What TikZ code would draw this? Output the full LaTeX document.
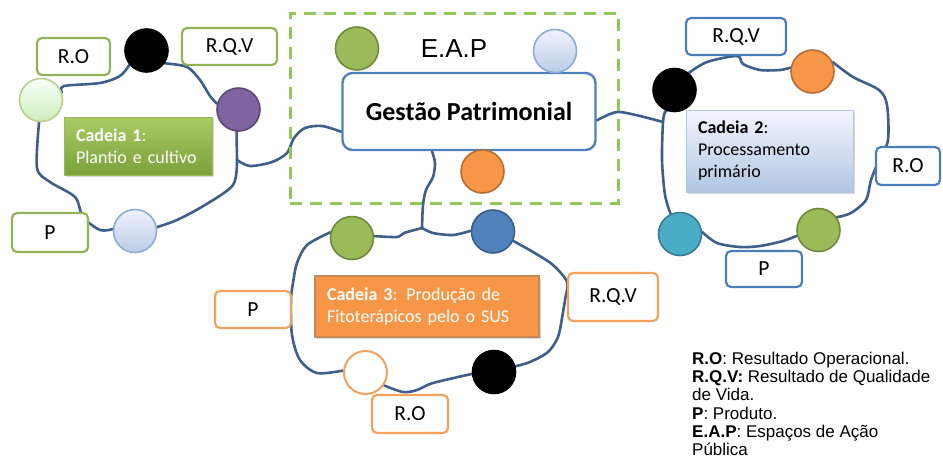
\documentclass[tikz,border=0pt]{standalone}
\usepackage{fontspec}
\setmainfont{Carlito}
\newfontfamily\arialfont{Liberation Sans}
\usetikzlibrary{positioning, shadows, backgrounds}

\definecolor{linkblue}{HTML}{3E5F8A}
\definecolor{tagverde}{HTML}{93B35B}
\definecolor{tagazul}{HTML}{4A7EBB}
\definecolor{taglaranja}{HTML}{F2A15E}
\definecolor{tracejado}{HTML}{92C85A}
\definecolor{olive}{HTML}{9BBB59}
\definecolor{oliveB}{HTML}{71893F}
\definecolor{laranja}{HTML}{F79646}
\definecolor{laranjaB}{HTML}{B66D31}
\definecolor{roxo}{HTML}{8064A2}
\definecolor{roxoB}{HTML}{5C4776}
\definecolor{azul}{HTML}{4F81BD}
\definecolor{azulB}{HTML}{385D8A}
\definecolor{turquesa}{HTML}{4BACC6}
\definecolor{turquesaB}{HTML}{357D91}
\definecolor{cad1top}{HTML}{A9CB63}
\definecolor{cad1bot}{HTML}{7BA13A}

\tikzset{
  link/.style={draw=linkblue, line width=2.6pt, line join=round, line cap=round},
  dot/.style={circle, minimum size=43pt, inner sep=0pt, line width=1.6pt},
  preto/.style={dot, fill=black, draw=black},
  claro/.style={dot, top color=green!3!white, bottom color=green!25!olive!35, draw=olive!70},
  celeste/.style={dot, top color=blue!5!white, bottom color=azul!40, draw=azul!65},
  verdeC/.style={dot, fill=olive, draw=oliveB},
  laranjaC/.style={dot, fill=laranja, draw=laranjaB},
  roxoC/.style={dot, fill=roxo, draw=roxoB},
  azulC/.style={dot, fill=azul, draw=azulB},
  turquesaC/.style={dot, fill=turquesa, draw=turquesaB},
  vazio/.style={dot, fill=white, draw=taglaranja, line width=2pt},
  tag/.style={draw=#1, fill=white, rounded corners=5pt, line width=2.2pt, inner sep=0pt,
    font=\fontsize{21.5}{25}\selectfont},
  cadeia/.style={rectangle, inner xsep=12pt, align=left, font=\fontsize{18}{22}\selectfont,
    drop shadow={opacity=0.3, shadow xshift=2pt, shadow yshift=-2pt}},
}

\begin{document}
\begin{tikzpicture}[x=1pt, y=-1pt]
\useasboundingbox (0,0) rectangle (943,464);

% E.A.P
\node[draw=tracejado, line width=3pt, dash pattern=on 12pt off 8pt, minimum width=328pt, minimum height=190pt] (eap) at (454,108) {};
\node[font=\arialfont\fontsize{26}{30}\selectfont] (eaptxt) at (454,49) {E.A.P};
\node[draw=azul, fill=white, line width=2.4pt, rounded corners=10pt, minimum width=253pt, minimum height=77pt,
  font=\bfseries\fontsize{26}{30}\selectfont] (gestao) at (469,111.5) {Gestão Patrimonial};
\node[verdeC] (eapverde) at (357,48.5) {};
\node[celeste] (eapazul) at (555,51) {};
\node[laranjaC] (eaplaranja) at (482.5,171.5) {};

% Cadeia 1
\node[cadeia, text width=124pt, minimum height=58pt, top color=cad1top, bottom color=cad1bot, draw=olive, text=white] (cad1) at (138,146) {\textbf{Cadeia 1}:\\Plantio e cultivo};
\node[preto] (c1preto) at (146.5,50.5) {};
\node[claro] (c1claro) at (41,100) {};
\node[roxoC] (c1roxo) at (238.5,109.5) {};
\node[celeste] (c1azul) at (135,231) {};
\node[tag=tagverde, minimum width=73pt, minimum height=37pt] (c1ro) at (73.5,56.5) {R.O};
\node[tag=tagverde, minimum width=95pt, minimum height=37pt] (c1rqv) at (229.5,46.5) {R.Q.V};
\node[tag=tagverde, minimum width=76pt, minimum height=39pt] (c1p) at (50,232.5) {P};

% Cadeia 2
\node[cadeia, text width=143pt, minimum height=82pt, top color=blue!4!white, bottom color=azul!45!white, draw=azul!45] (cad2) at (769.5,151) {\textbf{Cadeia 2}:\\Processamento\\primário};
\node[preto] (c2preto) at (674.5,90) {};
\node[laranjaC] (c2laranja) at (812.5,71.5) {};
\node[verdeC] (c2verde) at (818.5,230) {};
\node[turquesaC] (c2turquesa) at (680,234) {};
\node[tag=tagazul, minimum width=100pt, minimum height=37pt] (c2rqv) at (736,36.5) {R.Q.V};
\node[tag=tagazul, minimum width=64pt, minimum height=38pt] (c2ro) at (908,166) {R.O};
\node[tag=tagazul, minimum width=76pt, minimum height=36pt] (c2p) at (764,269) {P};

% Cadeia 3
\node[cadeia, text width=200pt, minimum height=61pt, fill=laranja, draw=laranjaB!80, line width=1.5pt, text=white] (cad3) at (427,306.5) {\textbf{Cadeia 3}: Produção de\\Fitoterápicos pelo o SUS};
\node[verdeC] (c3verde) at (352,238) {};
\node[azulC] (c3azul) at (493,231.5) {};
\node[vazio] (c3vazio) at (365.5,372.5) {};
\node[preto] (c3preto) at (494,372) {};
\node[tag=taglaranja, minimum width=76pt, minimum height=37pt] (c3p) at (253,309.5) {P};
\node[tag=taglaranja, minimum width=90pt, minimum height=48pt] (c3rqv) at (613,297) {R.Q.V};
\node[tag=taglaranja, minimum width=76pt, minimum height=38pt] (c3ro) at (410,414) {R.O};

\coordinate (j1) at (237,160);
\coordinate (j2) at (663,122);
\coordinate (j3) at (422,228);

\begin{scope}[on background layer]
  % cadeia 1
  \draw[link] plot[smooth] coordinates {(c1claro.20) (64,86) (100,83) (120,76) (c1preto.220)};
  \draw[link] plot[smooth] coordinates {(c1preto.-35) (187,67) (200,80) (210,96) (c1roxo.165)};
  \draw[link] (c1roxo.-95) -- (j1);
  \draw[link] plot[smooth] coordinates {(j1) (233,185) (205,205) (177,220) (c1azul.10)};
  \draw[link] plot[smooth] coordinates {(c1azul.175) (100,230) (83,217) (75,197) (50,182) (37,168) (c1claro.-95)};
  \draw[link] plot[smooth] coordinates {(j1) (250,166) (272,162) (287,153) (294,138) (305,128) (322,126) (gestao.-171)};
  % cadeia 2
  \draw[link] plot[smooth] coordinates {(gestao.-4) (610,114) (620,112) (640,116) (j2)};
  \draw[link] plot[smooth] coordinates {(c2preto.50) (707,62) (737,56) (743,64) (760,70) (780,70) (c2laranja.170)};
  \draw[link] plot[smooth] coordinates {(c2laranja.25) (853,77) (879,90) (887,105) (888,140) (879,160) (871,180) (866,200) (851,213) (c2verde.35)};
  \draw[link] plot[smooth] coordinates {(c2verde.195) (783,241) (760,246) (740,247) (717,243) (c2turquesa.5)};
  \draw[link] plot[smooth] coordinates {(c2turquesa.115) (665,195) (662,160) (j2) (665,112) (c2preto.-110)};
  % cadeia 3
  \draw[link] plot[smooth] coordinates {([xshift=-37pt]gestao.south) (435,163) (433,177) (426,190) (423,205) (j3)};
  \draw[link] plot[smooth] coordinates {(c3verde.5) (397,237) (404,233) (j3)};
  \draw[link] plot[smooth] coordinates {(j3) (433,233) (453,235) (c3azul.178)};
  \draw[link] plot[smooth] coordinates {(c3azul.-25) (533,252) (553,265) (567,282) (565,300) (562,318) (558,337) (548,352) (530,362) (c3preto.15)};
  \draw[link] plot[smooth] coordinates {(c3preto.185) (433,383) (417,390) (403,392) (c3vazio.-35)};
  \draw[link] plot[smooth] coordinates {(c3vazio.175) (317,373) (300,360) (292,335) (291,300) (293,283) (297,263) (307,245) (c3verde.165)};
\end{scope}

% legenda
\node[anchor=north west, inner sep=0pt, align=left, font=\arialfont\fontsize{17}{18.2}\selectfont] (legenda) at (692,352)
  {\textbf{R.O}: Resultado Operacional.\\\textbf{R.Q.V:} Resultado de Qualidade\\de Vida.\\\textbf{P}: Produto.\\\textbf{E.A.P}: Espaços de Ação\\Pública};
\end{tikzpicture}
\end{document}
